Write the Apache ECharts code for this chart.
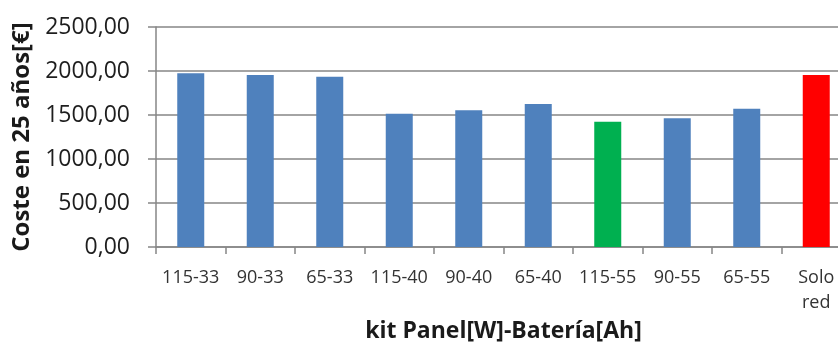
<!DOCTYPE html>
<html><head><meta charset="utf-8">
<script src="https://cdn.jsdelivr.net/npm/echarts@6/dist/echarts.min.js"></script>
<style>html,body{margin:0;padding:0;background:#fff;overflow:hidden;width:838px;height:352px}#c{width:851px;height:352px}</style>
</head><body><div id="c"></div>
<script>
var categories = ['115-33','90-33','65-33','115-40','90-40','65-40','115-55','90-55','65-55','Solo\nred'];
var costs = [1974, 1955, 1935, 1515, 1553, 1625, 1424, 1462, 1572, 1955];
var yTicks = [0, 500, 1000, 1500, 2000, 2500];
var bestKit = '115-55';
var gridOnly = 'Solo\nred';

var chart = echarts.init(document.getElementById('c'), null, {renderer:'canvas'});
chart.setOption({
  animation:false,
  backgroundColor:'#fff',
  grid:{left:156, right:0, top:27, bottom:105, containLabel:false},
  xAxis:{
    type:'category', data:categories,
    name:'kit Panel[W]-Batería[Ah]', nameLocation:'middle', nameGap:73,
    nameTextStyle:{fontFamily:'Open Sans', fontWeight:'bold', fontSize:23, color:'#1a1a1a'},
    axisLine:{lineStyle:{color:'#868686', width:1.5}},
    axisTick:{show:true, length:7, lineStyle:{color:'#868686', width:1.5}},
    axisLabel:{fontFamily:'Open Sans', fontSize:18, color:'#333', margin:18, lineHeight:25, interval:0}
  },
  yAxis:{
    type:'value', min:yTicks[0], max:yTicks[yTicks.length-1], interval:yTicks[1]-yTicks[0],
    name:'Coste en 25 años[€]', nameLocation:'middle', nameGap:116,
    nameTextStyle:{fontFamily:'Open Sans', fontWeight:'bold', fontSize:24, color:'#1a1a1a'},
    axisLine:{show:true, lineStyle:{color:'#868686', width:1.5}},
    axisTick:{show:true, length:8, lineStyle:{color:'#868686', width:1.5}},
    splitLine:{lineStyle:{color:'#868686', width:1.5}},
    axisLabel:{fontFamily:'Open Sans', fontSize:23, color:'#1e1e1e', margin:26,
      formatter:function(v){return v.toFixed(2).replace('.', ',');}}
  },
  series:[{
    type:'bar', data:costs, barWidth:27,
    itemStyle:{color:function(p){
      if(p.name===bestKit) return '#00B050';
      if(p.name===gridOnly) return '#FF0000';
      return '#4F81BD';
    }}
  }]
});
</script></body></html>
